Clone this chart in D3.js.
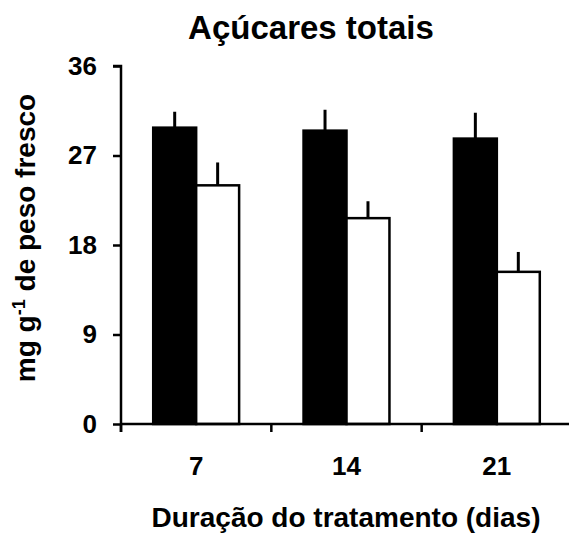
<!DOCTYPE html>
<html>
<head>
<meta charset="utf-8">
<script src="https://cdn.jsdelivr.net/npm/d3@7"></script>
<style>
  html, body { margin: 0; padding: 0; background: #fff; }
  svg { display: block; font-family: "Liberation Sans", Arial, sans-serif; }
</style>
</head>
<body>
<svg id="chart" width="569" height="533"></svg>
<script>
const categories = ["7", "14", "21"];
const seriesNames = ["A", "B"];
const seriesA = [29.8, 29.5, 28.7];
const seriesAErr = [1.6, 2.1, 2.6];
const seriesB = [24.0, 20.7, 15.3];
const seriesBErr = [2.3, 1.7, 2.0];
const yTicks = [0, 9, 18, 27, 36];
const title = "Açúcares totais";
const xTitle = "Duração do tratamento (dias)";

const svg = d3.select("#chart");
const x0 = d3.scaleBand().domain(categories).range([121, 572]).paddingInner(0).paddingOuter(0);
const x1 = d3.scaleBand().domain(seriesNames).range([0, x0.bandwidth()]).paddingInner(0).paddingOuter(0.75);
const y = d3.scaleLinear().domain([0, 36]).range([424, 66]);

const data = [];
categories.forEach((c, i) => {
  data.push({cat: c, s: "A", v: seriesA[i], e: seriesAErr[i]});
  data.push({cat: c, s: "B", v: seriesB[i], e: seriesBErr[i]});
});

// error bars (upward only)
svg.append("g").selectAll("line").data(data).join("line")
  .attr("x1", d => x0(d.cat) + x1(d.s) + x1.bandwidth() / 2)
  .attr("x2", d => x0(d.cat) + x1(d.s) + x1.bandwidth() / 2)
  .attr("y1", d => y(d.v))
  .attr("y2", d => y(d.v + d.e))
  .attr("stroke", "#000").attr("stroke-width", 3);

// bars
svg.append("g").selectAll("rect").data(data).join("rect")
  .attr("x", d => x0(d.cat) + x1(d.s))
  .attr("y", d => y(d.v))
  .attr("width", x1.bandwidth())
  .attr("height", d => y(0) - y(d.v))
  .attr("fill", d => d.s === "A" ? "#000" : "#fff")
  .attr("stroke", "#000").attr("stroke-width", 2.5);

// y axis
const yAxis = svg.append("g").attr("transform", "translate(121,0)")
  .call(d3.axisLeft(y).tickValues(yTicks).tickSize(8).tickPadding(16).tickFormat(d3.format("d")));
yAxis.select(".domain").attr("d", "M-8," + y(36) + "H0V" + (y(0) + 8)).attr("stroke-width", 2.5);
yAxis.selectAll(".tick line").attr("stroke-width", 2.5);
yAxis.selectAll(".tick text").attr("font-size", 26).attr("font-weight", "bold").attr("fill", "#000")
  .attr("font-family", "Liberation Sans, Arial, sans-serif");

// x axis
const xTickScale = d3.scaleLinear().domain([0, categories.length]).range(x0.range());
const xAxis = svg.append("g").attr("transform", "translate(0,424)");
xAxis.append("line").attr("x1", 121).attr("x2", 572).attr("y1", 0).attr("y2", 0)
  .attr("stroke", "#000").attr("stroke-width", 2.5);
xAxis.selectAll("line.tk").data(d3.range(categories.length + 1)).join("line").attr("class", "tk")
  .attr("x1", d => xTickScale(d)).attr("x2", d => xTickScale(d))
  .attr("y1", 0).attr("y2", 8).attr("stroke", "#000").attr("stroke-width", 2.5);
xAxis.selectAll("text").data(categories).join("text")
  .attr("x", d => x0(d) + x0.bandwidth() / 2)
  .attr("y", 51)
  .attr("text-anchor", "middle")
  .attr("font-size", 26).attr("font-weight", "bold")
  .text(d => d);

// titles
svg.append("text").attr("x", 311).attr("y", 39).attr("text-anchor", "middle")
  .attr("font-size", 33).attr("font-weight", "bold").text(title);
svg.append("text").attr("x", 346).attr("y", 527).attr("text-anchor", "middle")
  .attr("font-size", 28).attr("font-weight", "bold").text(xTitle);

const yl = svg.append("text").attr("transform", "translate(35,238) rotate(-90)")
  .attr("text-anchor", "middle").attr("font-size", 28).attr("font-weight", "bold");
yl.append("tspan").text("mg g");
yl.append("tspan").attr("dy", -10).attr("font-size", 18).text("-1");
yl.append("tspan").attr("dy", 10).text(" de peso fresco");
</script>
</body>
</html>
